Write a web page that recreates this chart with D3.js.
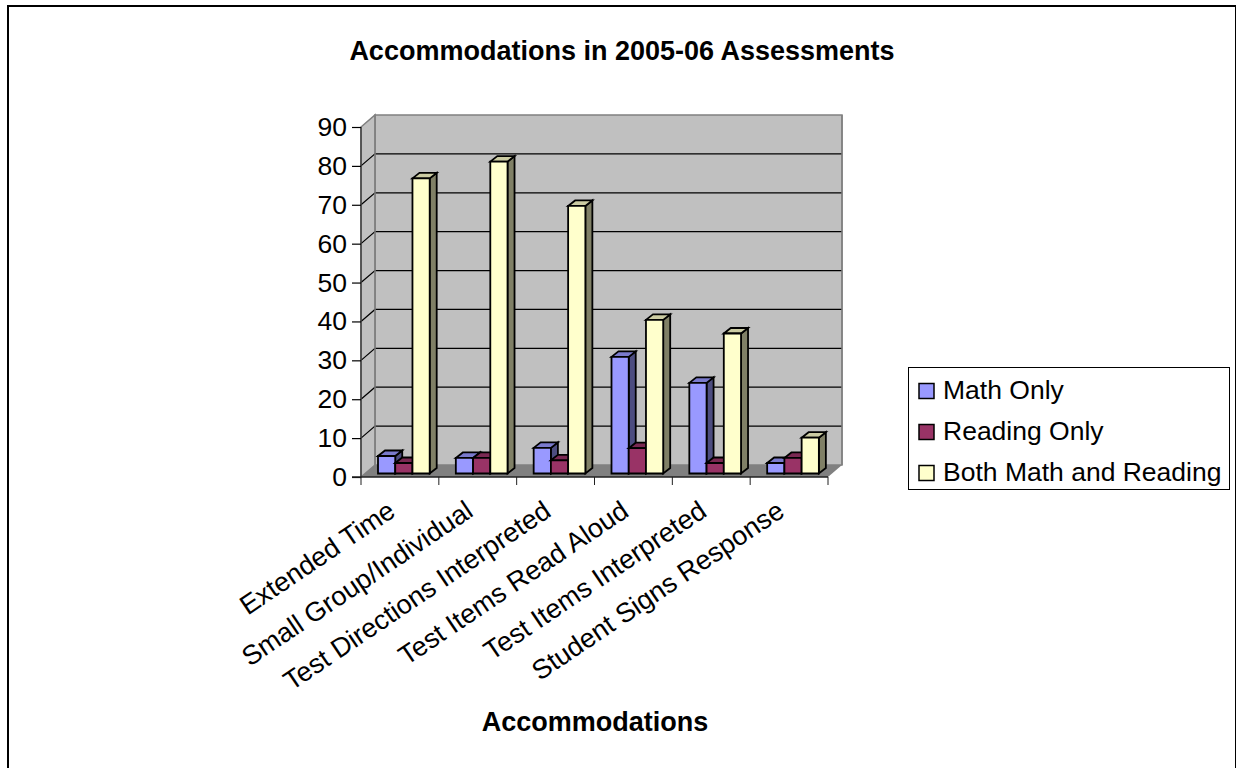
<!DOCTYPE html>
<html>
<head>
<meta charset="utf-8">
<script src="https://cdnjs.cloudflare.com/ajax/libs/d3/7.8.5/d3.min.js"></script>
<style>
html,body{margin:0;padding:0;background:#fff}
svg{display:block}
text{font-family:"Liberation Sans",Arial,sans-serif;fill:#000}
</style>
</head>
<body>
<svg id="chart" width="1236" height="768"></svg>
<script>
const categories = ["Extended Time","Small Group/Individual","Test Directions Interpreted","Test Items Read Aloud","Test Items Interpreted","Student Signs Response"];
const seriesNames = ["Math Only","Reading Only","Both Math and Reading"];
const mathOnly = [4.5,4,6.6,30,23.3,2.7];
const readingOnly = [2.7,4,3.4,6.5,2.7,4];
const bothSubjects = [75.9,80.2,68.8,39.5,36,9.2];
const tickValues = [0,10,20,30,40,50,60,70,80,90];
const faceColors = ["#9999ff","#993366","#ffffcc"];
const sideColors = ["#4d4d80","#4d1a33","#808066"];
const topColors = ["#7a7acc","#7a2952","#cccca3"];

const svg = d3.select("#chart");

// outer chart frame, open past the bottom edge of the page
svg.append("rect").attr("x",8).attr("y",6).attr("width",1228).attr("height",800)
  .attr("fill","#fff").attr("stroke","#000").attr("stroke-width",2);

svg.append("text").attr("x",622).attr("y",60).attr("text-anchor","middle")
  .attr("font-size",27).attr("font-weight","bold").text("Accommodations in 2005-06 Assessments");

// front plane scales, the wall sits behind by (depthX, depthY)
const x = d3.scaleBand().domain(categories).range([361,828]);
const y = d3.scaleLinear().domain([0,90]).range([477,127]);
const depthX = 14, depthY = -12;
const barInset = 3.5;
const inner = d3.scaleBand().domain(d3.range(3)).range([17,68.7]);

const plot = svg.append("g");
const poly = (pts,fill,stroke,sw) => plot.append("polygon")
  .attr("points",pts.map(p=>p.join(",")).join(" "))
  .attr("fill",fill).attr("stroke",stroke||"none").attr("stroke-width",sw||0);

const [x0,x1] = x.range();
// back wall, side wall, floor
poly([[x0+depthX,y(90)+depthY],[x1+depthX,y(90)+depthY],[x1+depthX,y(0)+depthY],[x0+depthX,y(0)+depthY]],"#c0c0c0","#808080",1.5);
poly([[x0,y(90)],[x0+depthX,y(90)+depthY],[x0+depthX,y(0)+depthY],[x0,y(0)]],"#c0c0c0","#808080",1.5);
poly([[x0,y(0)],[x0+depthX,y(0)+depthY],[x1+depthX,y(0)+depthY],[x1,y(0)]],"#808080","none",0);

// gridlines run across the wall and down its side to the front axis
tickValues.filter(t=>t>0&&t<90).forEach(t=>{
  plot.append("polyline")
    .attr("points",`${x0},${y(t)} ${x0+depthX},${y(t)+depthY} ${x1+depthX},${y(t)+depthY}`)
    .attr("fill","none").attr("stroke","#000").attr("stroke-width",1.2);
});
plot.append("line").attr("x1",x0+depthX).attr("x2",x0+depthX).attr("y1",y(90)+depthY).attr("y2",y(0)+depthY).attr("stroke","#808080").attr("stroke-width",1.5);
plot.append("line").attr("x1",x1+depthX).attr("x2",x1+depthX).attr("y1",y(90)+depthY).attr("y2",y(0)+depthY).attr("stroke","#808080").attr("stroke-width",1.5);

// 3-D columns, painted left to right so each front face covers its neighbour's side
const barDepthX = 7, barDepthY = -5.5;
const barBase = y(0) - barInset;
const allSeries = [mathOnly,readingOnly,bothSubjects];
categories.forEach((c,i)=>{
  allSeries.forEach((vals,s)=>{
    const l = x(c)+inner(s), w = inner.bandwidth(), r = l+w;
    const top = barBase-(y(0)-y(vals[i]));
    poly([[r,top],[r+barDepthX,top+barDepthY],[r+barDepthX,barBase+barDepthY],[r,barBase]],sideColors[s],"#000",1.8);
    poly([[l,top],[l+barDepthX,top+barDepthY],[r+barDepthX,top+barDepthY],[r,top]],topColors[s],"#000",1.8);
    poly([[l,top],[r,top],[r,barBase],[l,barBase]],faceColors[s],"#000",1.8);
  });
});

// value axis
const yAxis = d3.axisLeft(y).tickValues(tickValues).tickSize(9).tickPadding(5);
const gy = svg.append("g").attr("transform",`translate(${x0},0)`).call(yAxis);
gy.select(".domain").attr("stroke","#404040").attr("stroke-width",1.5).attr("d",`M0,${y(90)}V${y(0)}`);
gy.selectAll("line").attr("stroke","#000").attr("stroke-width",1.2);
gy.selectAll("text").attr("font-size",26.5).attr("font-family","Liberation Sans").attr("fill","#000");

// category axis with rotated labels
const gx = svg.append("g");
gx.append("line").attr("x1",x0-9).attr("x2",x1).attr("y1",y(0)).attr("y2",y(0)).attr("stroke","#202020").attr("stroke-width",1.5);
d3.range(7).forEach(i=>{
  const px = x0 + i*x.step();
  gx.append("line").attr("x1",px).attr("x2",px).attr("y1",y(0)).attr("y2",y(0)+8).attr("stroke","#202020").attr("stroke-width",1);
});
categories.forEach(c=>{
  gx.append("text")
    .attr("transform",`translate(${x(c)+36},${y(0)+38}) rotate(-34)`)
    .attr("text-anchor","end").attr("font-size",27).text(c);
});

svg.append("text").attr("x",595).attr("y",731).attr("text-anchor","middle")
  .attr("font-size",27).attr("font-weight","bold").text("Accommodations");

// legend
const legend = svg.append("g");
legend.append("rect").attr("x",908.5).attr("y",367.5).attr("width",321).attr("height",122)
  .attr("fill","#fff").attr("stroke","#000").attr("stroke-width",1);
seriesNames.forEach((n,i)=>{
  const cy = 391 + i*41;
  legend.append("rect").attr("x",919).attr("y",cy-7.5).attr("width",15).attr("height",15)
    .attr("fill",faceColors[i]).attr("stroke","#000").attr("stroke-width",1.5);
  legend.append("text").attr("x",943).attr("y",cy+8).attr("font-size",26.5).text(n);
});
</script>
</body>
</html>
